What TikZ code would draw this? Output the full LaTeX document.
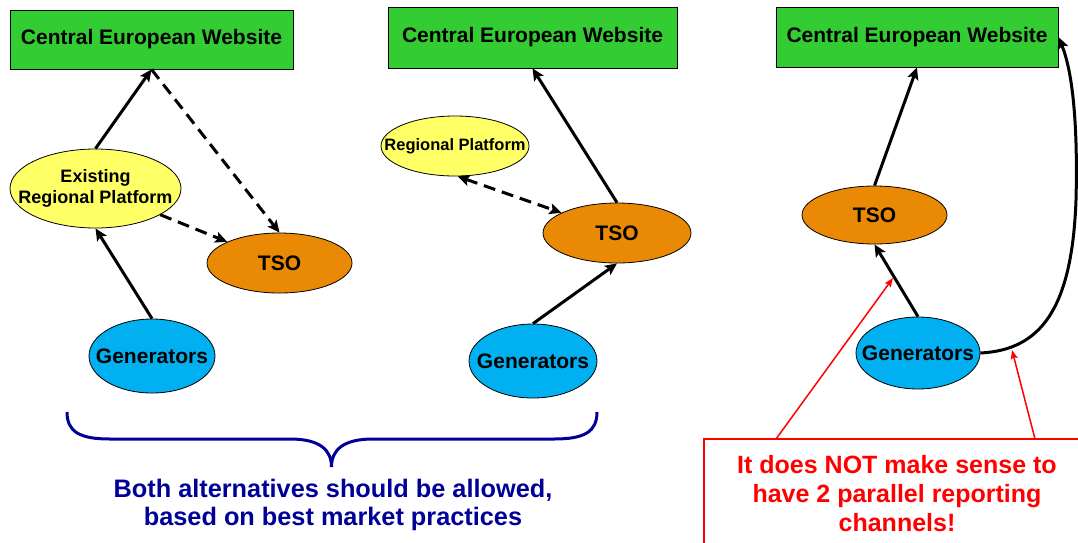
\documentclass[tikz,border=0pt]{standalone}
\usepackage{fontspec}
\setmainfont{Liberation Sans}
\usetikzlibrary{shapes.geometric,arrows.meta}
\definecolor{webgreen}{RGB}{51,204,51}
\definecolor{rpyellow}{RGB}{255,255,102}
\definecolor{tsoorange}{RGB}{234,138,4}
\definecolor{gencyan}{RGB}{0,176,240}
\definecolor{notblue}{RGB}{0,0,153}
\definecolor{notred}{RGB}{255,0,0}
\newcommand{\zw}[1]{\makebox[0pt][c]{#1}}
\tikzset{
  web/.style={draw=black, line width=0.8pt, fill=webgreen, rectangle, inner sep=0pt,
    font=\fontsize{21}{24}\selectfont\bfseries},
  oval/.style={draw=black, line width=0.8pt, ellipse, inner sep=0pt,
    font=\fontsize{21}{24}\selectfont\bfseries},
  rpnode/.style={oval, fill=rpyellow},
  tsonode/.style={oval, fill=tsoorange},
  gennode/.style={oval, fill=gencyan},
  arr/.style={line width=3pt, -{Stealth[length=12pt,width=11pt,inset=2.5pt]}},
  dasharr/.style={arr, dash pattern=on 12pt off 7pt},
  redarr/.style={draw=notred, line width=1.5pt, -{Stealth[length=9pt,width=7pt,inset=1.5pt]}},
}
\begin{document}
\begin{tikzpicture}[x=1pt,y=-1pt]
\useasboundingbox (0,0) rectangle (1078,542);

% ---------- Panel 1 ----------
\node[web, minimum width=283pt, minimum height=59pt] (w1) at (151.5,39.5) {Central European Website};
\node[rpnode, minimum width=171pt, minimum height=79pt,
  font=\fontsize{18}{21}\selectfont\bfseries] (erp) at (95.5,188.5)
  {\zw{\begin{tabular}{@{}c@{}}Existing\\Regional Platform\end{tabular}}};
\node[tsonode, minimum width=145pt, minimum height=60pt] (tso1) at (279.5,263) {\zw{TSO}};
\node[gennode, minimum width=126pt, minimum height=74pt] (gen1) at (152,356) {\zw{Generators}};

\draw[arr] (erp.north) -- (w1.south);
\draw[dasharr] (w1.south) -- (tso1.north);
\draw[dasharr] (erp) -- (tso1);
\draw[arr] (gen1.north) -- (erp.south);

% ---------- Panel 2 ----------
\node[web, minimum width=289pt, minimum height=61pt] (w2) at (532.5,37.5) {Central European Website};
\node[rpnode, minimum width=148pt, minimum height=60pt,
  font=\fontsize{16.5}{19}\selectfont\bfseries] (rp2) at (455,146) {\zw{Regional Platform}};
\node[tsonode, minimum width=148pt, minimum height=60pt] (tso2) at (617,233) {\zw{TSO}};
\node[gennode, minimum width=128pt, minimum height=74pt] (gen2) at (533,361) {\zw{Generators}};

\draw[arr] (tso2.north) -- (w2.south);
\draw[dasharr, {Stealth[length=12pt,width=11pt,inset=2.5pt]}-{Stealth[length=12pt,width=11pt,inset=2.5pt]}] (rp2.-85) -- (tso2.160);
\draw[arr] (gen2.north) -- (tso2.south);

% ---------- Panel 3 ----------
\node[web, minimum width=282pt, minimum height=60pt] (w3) at (917,37) {Central European Website};
\node[tsonode, minimum width=145pt, minimum height=58pt] (tso3) at (874.5,215) {\zw{TSO}};
\node[gennode, minimum width=124pt, minimum height=72pt] (gen3) at (918,353) {\zw{Generators}};

\draw[arr] (tso3.north) -- (w3.south);
\draw[arr] (gen3.north) -- (tso3.south);
\draw[arr] (gen3.east) .. controls (1040,350) and (1072,310) .. (1076,200)
  .. controls (1078,120) and (1072,70) .. (w3.east);

% ---------- Brace and note ----------
\coordinate (bl) at (67,412);
\coordinate (br) at (597,412);
\coordinate (btip) at (331.5,467);
\draw[notblue, line width=3pt]
  (bl) .. controls (67,432) and (80,439) .. (110,439) -- (290,439)
  .. controls (320,439) and (331.5,450) .. (btip)
  .. controls (331.5,450) and (343,439) .. (373,439) -- (554,439)
  .. controls (584,439) and (597,432) .. (br);
\node[text=notblue, align=center, font=\fontsize{25.3}{28.5}\selectfont\bfseries] (both) at (333,505)
  {Both alternatives should be allowed,\\based on best market practices};

% ---------- Red callout ----------
\coordinate (rb0) at (704,545);
\coordinate (rb1) at (704,439);
\coordinate (rb2) at (1081,439);
\draw[notred, line width=1.5pt] (rb0) -- (rb1) -- (rb2);
\node[text=notred, align=center, font=\fontsize{25}{29}\selectfont\bfseries] (note) at (897,494)
  {It does NOT make sense to\\have 2 parallel reporting\\channels!};
\coordinate (s1) at (776,439);
\coordinate (s2) at (1035,439);
\coordinate (t1) at (893,278);
\coordinate (t2) at (1012,350);
\draw[redarr] (s1) -- (t1);
\draw[redarr] (s2) -- (t2);
\end{tikzpicture}
\end{document}
